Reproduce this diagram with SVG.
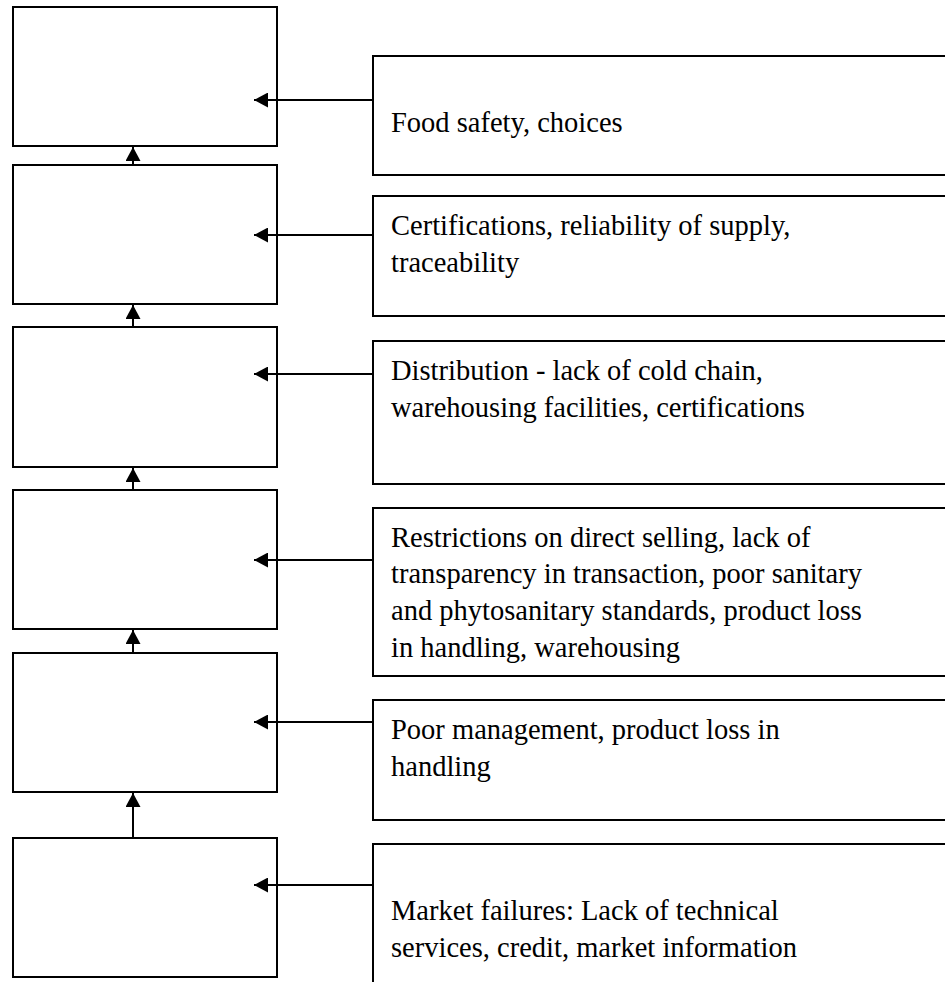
<svg xmlns="http://www.w3.org/2000/svg" width="945" height="982" viewBox="0 0 945 982">
<style>
.box{fill:#fff;stroke:#000;stroke-width:2}
.con{stroke:#000;stroke-width:2;fill:none;marker-end:url(#ah)}
.t{font-family:"Liberation Serif","Times New Roman",serif;font-size:28.5px;fill:#000}
</style>
<defs>
<marker id="ah" viewBox="0 0 14 15" refX="14" refY="7.5" markerWidth="14" markerHeight="15" markerUnits="userSpaceOnUse" orient="auto">
<path d="M0,0 L14,7.5 L0,15 z" fill="#000"/>
</marker>
</defs>
<rect x="0" y="0" width="945" height="982" fill="#fff"/>
<g id="stage1"><rect class="box" x="13" y="7" width="264" height="139"/></g>
<g id="stage2"><rect class="box" x="13" y="165" width="264" height="139"/></g>
<g id="stage3"><rect class="box" x="13" y="327" width="264" height="140"/></g>
<g id="stage4"><rect class="box" x="13" y="490" width="264" height="139"/></g>
<g id="stage5"><rect class="box" x="13" y="653" width="264" height="139"/></g>
<g id="stage6"><rect class="box" x="13" y="838" width="264" height="139"/></g>
<g id="issue1"><rect class="box" x="373" y="56" width="600" height="119"/>
<text class="t" x="391" y="132">Food safety, choices</text></g>
<g id="issue2"><rect class="box" x="373" y="196" width="600" height="120"/>
<text class="t" x="391" y="235">Certifications, reliability of supply,</text>
<text class="t" x="391" y="272">traceability</text></g>
<g id="issue3"><rect class="box" x="373" y="341" width="600" height="143"/>
<text class="t" x="391" y="380">Distribution - lack of cold chain,</text>
<text class="t" x="391" y="417">warehousing facilities, certifications</text></g>
<g id="issue4"><rect class="box" x="373" y="508" width="600" height="168"/>
<text class="t" x="391" y="547">Restrictions on direct selling, lack of</text>
<text class="t" x="391" y="583">transparency in transaction, poor sanitary</text>
<text class="t" x="391" y="620">and phytosanitary standards, product loss</text>
<text class="t" x="391" y="657">in handling, warehousing</text></g>
<g id="issue5"><rect class="box" x="373" y="700" width="600" height="120"/>
<text class="t" x="391" y="739">Poor management, product loss in</text>
<text class="t" x="391" y="776">handling</text></g>
<g id="issue6"><rect class="box" x="373" y="844" width="600" height="160"/>
<text class="t" x="391" y="920">Market failures: Lack of technical</text>
<text class="t" x="391" y="957">services, credit, market information</text></g>
<g id="connectors">
<line class="con" x1="133" y1="165" x2="133" y2="147"/>
<line class="con" x1="133" y1="327" x2="133" y2="305"/>
<line class="con" x1="133" y1="490" x2="133" y2="468"/>
<line class="con" x1="133" y1="653" x2="133" y2="630"/>
<line class="con" x1="133" y1="838" x2="133" y2="793"/>
<line class="con" x1="373" y1="100" x2="254" y2="100"/>
<line class="con" x1="373" y1="235" x2="254" y2="235"/>
<line class="con" x1="373" y1="374" x2="254" y2="374"/>
<line class="con" x1="373" y1="560" x2="254" y2="560"/>
<line class="con" x1="373" y1="722" x2="254" y2="722"/>
<line class="con" x1="373" y1="885" x2="254" y2="885"/>
</g>
</svg>
